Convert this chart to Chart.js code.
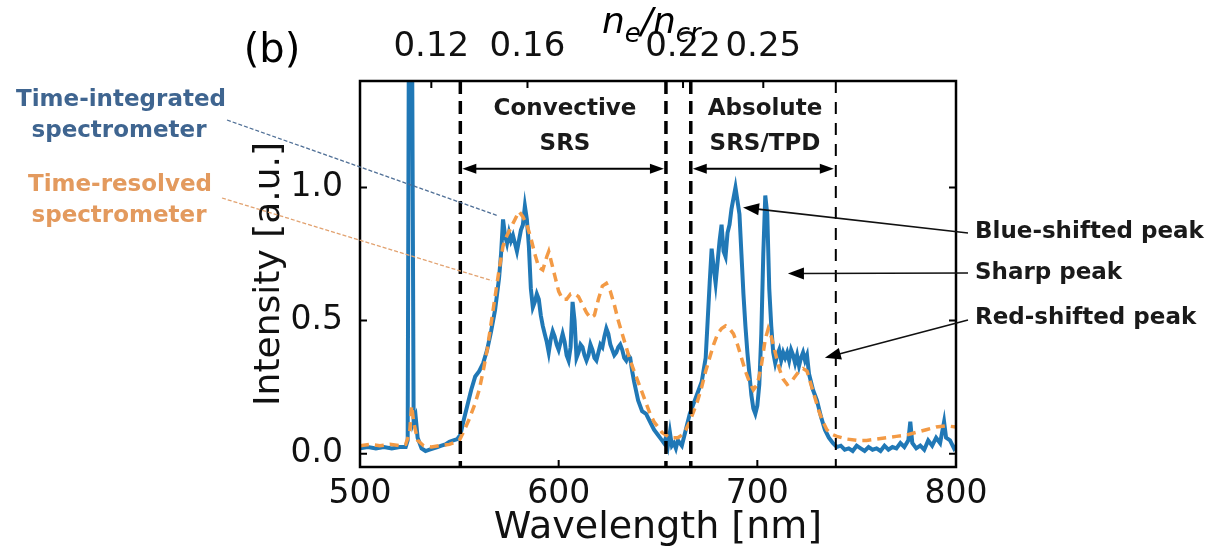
<!DOCTYPE html>
<html><head><meta charset="utf-8">
<script src="https://cdn.jsdelivr.net/npm/chart.js@4.4.0/dist/chart.umd.min.js"></script>
<style>html,body{margin:0;padding:0;background:#fff;}canvas{display:block;}</style>
</head><body>
<canvas id="c" width="1216" height="558"></canvas>
<script>
// ---- data ----
const blueWavelength = [500,504,508,512,516,520,523,524,524.6,525.4,526.2,527,528,529,531,533,535,537,539,541,543,545,547,549,550.5,552,554,556,558,560,562,564,566,568,570,571,572,573,574,575,576,577,578,579,580,581,582,583,584,585,586,587,588,589,590,591,592,593,594,595,596,597,598,599,600,601,602,603,604,605,606,607,608,609,610,611,612,613,614,615,616,617,618,619,620,621,622,623,624,625,626,627,628,629,630,631,632,633,634,635,636,637,638,640,642,644,646,648,650,652,653,654,655,656,657,658,659,660,661,662,663,664,665,666,668,670,672,674,675,676,677,678,679,680,681,682,683,684,685,686,687,688,689,690,691,692,693,694,695,696,697,698,699,700,701,702,703,704,705,706,707,708,709,710,711,712,713,714,715,716,717,718,719,720,721,722,723,724,725,726,728,730,732,734,736,738,740,742,744,746,748,750,752,754,756,758,760,762,764,766,768,770,772,774,776,777,778,780,782,784,786,788,790,792,794,795,797,799,800];
const blueIntensity = [0.02,0.025,0.02,0.025,0.02,0.025,0.025,0.05,1.6,1.6,1.6,0.12,0.14,0.06,0.02,0.01,0.015,0.02,0.025,0.03,0.035,0.045,0.05,0.055,0.07,0.12,0.18,0.24,0.29,0.31,0.34,0.39,0.46,0.54,0.66,0.75,0.88,0.82,0.79,0.83,0.80,0.82,0.79,0.76,0.80,0.84,0.86,0.93,0.88,0.78,0.62,0.55,0.57,0.60,0.58,0.52,0.48,0.45,0.42,0.38,0.43,0.46,0.44,0.41,0.39,0.42,0.45,0.42,0.37,0.35,0.40,0.57,0.50,0.36,0.38,0.41,0.40,0.37,0.35,0.37,0.41,0.39,0.36,0.35,0.38,0.41,0.40,0.44,0.47,0.45,0.41,0.39,0.37,0.38,0.40,0.41,0.39,0.36,0.35,0.37,0.36,0.31,0.27,0.20,0.16,0.15,0.12,0.09,0.07,0.05,0.04,0.06,0.03,0.08,0.03,0.04,0.02,0.05,0.04,0.03,0.06,0.09,0.12,0.15,0.19,0.23,0.27,0.36,0.50,0.64,0.77,0.70,0.64,0.72,0.80,0.86,0.76,0.74,0.83,0.86,0.92,0.96,1.00,0.95,0.90,0.75,0.60,0.48,0.38,0.30,0.22,0.17,0.15,0.18,0.26,0.45,0.75,0.97,0.90,0.62,0.48,0.38,0.34,0.37,0.39,0.35,0.38,0.36,0.38,0.35,0.39,0.37,0.34,0.37,0.33,0.36,0.38,0.35,0.37,0.30,0.24,0.20,0.14,0.09,0.06,0.04,0.025,0.03,0.015,0.02,0.01,0.03,0.02,0.01,0.025,0.015,0.02,0.01,0.03,0.015,0.025,0.02,0.04,0.025,0.05,0.12,0.04,0.02,0.03,0.015,0.05,0.03,0.06,0.04,0.12,0.06,0.05,0.02,0.03];
const orangeWavelength = [500,505,510,515,520,523,525,526,527,529,532,536,540,545,550,552,555,558,560,562,564,566,568,570,572,574,576,578,580,582,584,586,588,590,592,594,595,596,598,600,602,604,606,608,610,612,614,616,618,620,622,624,626,628,630,632,634,636,638,640,642,644,646,648,650,652,654,656,658,660,662,664,666,668,670,672,674,676,678,680,682,684,686,688,690,692,694,696,698,700,702,704,705.5,707,709,711,713,715,717,719,721,723,725,727,729,731,733,735,737,740,745,750,755,760,765,770,775,780,785,790,795,800];
const orangeIntensity = [0.03,0.035,0.03,0.035,0.03,0.035,0.08,0.18,0.12,0.05,0.03,0.025,0.03,0.035,0.05,0.08,0.13,0.19,0.24,0.31,0.39,0.49,0.59,0.69,0.78,0.82,0.85,0.88,0.91,0.89,0.86,0.81,0.75,0.70,0.69,0.74,0.76,0.73,0.67,0.61,0.58,0.58,0.60,0.60,0.59,0.56,0.53,0.51,0.52,0.58,0.63,0.64,0.61,0.56,0.50,0.45,0.40,0.35,0.31,0.27,0.23,0.19,0.15,0.12,0.10,0.08,0.07,0.06,0.06,0.06,0.07,0.09,0.12,0.16,0.20,0.25,0.31,0.36,0.41,0.45,0.47,0.48,0.47,0.45,0.41,0.36,0.31,0.27,0.24,0.26,0.33,0.43,0.47,0.44,0.38,0.32,0.28,0.26,0.27,0.29,0.31,0.32,0.31,0.26,0.21,0.16,0.12,0.09,0.075,0.065,0.055,0.05,0.05,0.055,0.06,0.065,0.07,0.08,0.09,0.10,0.105,0.10];
const xTickValues = [500,600,700,800];
const yTickValues = [0,0.5,1.0];
const topTickWavelength = [535.9,584.3,662.6,703];
const topTickLabels = ['0.12','0.16','0.22','0.25'];
const regionBounds = [550.5,654,666.5,739.5];

const toPoints = (xs, ys) => xs.map((v,i)=>({x:v,y:ys[i]}));

const FONT = '"DejaVu Sans", sans-serif';

function head(ctx, x1, y1, x2, y2, len, hw){
  const ang = Math.atan2(y2-y1, x2-x1);
  ctx.beginPath();
  ctx.moveTo(x2, y2);
  ctx.lineTo(x2 - len*Math.cos(ang) + hw*Math.sin(ang), y2 - len*Math.sin(ang) - hw*Math.cos(ang));
  ctx.lineTo(x2 - len*Math.cos(ang) - hw*Math.sin(ang), y2 - len*Math.sin(ang) + hw*Math.cos(ang));
  ctx.closePath();
  ctx.fill();
}
function arrow(ctx, x1, y1, x2, y2, len, hw, lw){
  const ang = Math.atan2(y2-y1, x2-x1);
  ctx.lineWidth = lw;
  ctx.beginPath();
  ctx.moveTo(x1,y1);
  ctx.lineTo(x2 - len*0.8*Math.cos(ang), y2 - len*0.8*Math.sin(ang));
  ctx.stroke();
  head(ctx, x1, y1, x2, y2, len, hw);
}

const deco = {
  id: 'deco',
  afterDatasetsDraw(chart){
    const {ctx, chartArea:a, scales} = chart;
    const X = v => scales.x.getPixelForValue(v), Y = v => scales.y.getPixelForValue(v);
    ctx.save();
    // region boundaries
    ctx.strokeStyle = '#000';
    regionBounds.forEach((w,i)=>{
      ctx.lineWidth = i < 3 ? 3.5 : 2;
      ctx.setLineDash(i < 3 ? [13,7] : [12,9]);
      ctx.beginPath(); ctx.moveTo(X(w), a.top); ctx.lineTo(X(w), a.bottom); ctx.stroke();
    });
    ctx.setLineDash([]);
    // double arrows
    ctx.fillStyle = '#000'; ctx.strokeStyle = '#000';
    const ya = Y(1.07);
    [[regionBounds[0], regionBounds[1]], [regionBounds[2], regionBounds[3]]].forEach(([l,r])=>{
      const xl = X(l)+2, xr = X(r)-2;
      ctx.lineWidth = 2;
      ctx.beginPath(); ctx.moveTo(xl+10, ya); ctx.lineTo(xr-10, ya); ctx.stroke();
      head(ctx, xr, ya, xl, ya, 14, 5);
      head(ctx, xl, ya, xr, ya, 14, 5);
    });
    // region labels
    ctx.font = 'bold 23px ' + FONT;
    ctx.textAlign = 'center'; ctx.textBaseline = 'alphabetic';
    ctx.fillStyle = '#1a1a1a';
    ctx.fillText('Convective', 565, 115);
    ctx.fillText('SRS', 565, 150);
    ctx.fillText('Absolute', 765, 115);
    ctx.fillText('SRS/TPD', 765, 150);
    // frame
    ctx.lineWidth = 2.5; ctx.strokeStyle = '#000';
    ctx.strokeRect(a.left, a.top, a.right - a.left, a.bottom - a.top);
    // inward ticks
    ctx.lineWidth = 2;
    const tl = 7;
    ctx.beginPath();
    xTickValues.forEach(v=>{ const px = X(v); ctx.moveTo(px, a.bottom); ctx.lineTo(px, a.bottom - tl); });
    yTickValues.forEach(v=>{ const py = Y(v); ctx.moveTo(a.left, py); ctx.lineTo(a.left + tl, py); ctx.moveTo(a.right, py); ctx.lineTo(a.right - tl, py); });
    topTickWavelength.forEach(v=>{ const px = X(v); ctx.moveTo(px, a.top); ctx.lineTo(px, a.top + tl); });
    ctx.stroke();
    ctx.restore();
  },
  afterDraw(chart){
    const {ctx, scales} = chart;
    const X = v => scales.x.getPixelForValue(v), Y = v => scales.y.getPixelForValue(v);
    ctx.save();
    // leader lines
    ctx.lineWidth = 1.3;
    ctx.setLineDash([4,2]);
    ctx.strokeStyle = '#4f6f96';
    ctx.beginPath(); ctx.moveTo(227,120); ctx.lineTo(X(569), Y(0.895)); ctx.stroke();
    ctx.strokeStyle = '#e2a270';
    ctx.beginPath(); ctx.moveTo(222,198); ctx.lineTo(X(566.4), Y(0.65)); ctx.stroke();
    ctx.setLineDash([]);
    // left labels
    ctx.font = 'bold 23px ' + FONT;
    ctx.textAlign = 'center'; ctx.textBaseline = 'alphabetic';
    ctx.fillStyle = '#3f6590';
    ctx.fillText('Time-integrated', 121, 106);
    ctx.fillText('spectrometer', 119, 137);
    ctx.fillStyle = '#e39a5e';
    ctx.fillText('Time-resolved', 120, 191);
    ctx.fillText('spectrometer', 119, 222);
    // right annotations
    ctx.fillStyle = '#000'; ctx.strokeStyle = '#111';
    arrow(ctx, 968, 233, X(692.8), Y(0.925), 16, 6, 1.6);
    arrow(ctx, 968, 273, X(715.4), Y(0.677), 16, 6, 1.6);
    arrow(ctx, 968, 320, X(734), Y(0.36), 16, 6, 1.6);
    ctx.font = 'bold 23px ' + FONT;
    ctx.textAlign = 'left'; ctx.textBaseline = 'middle';
    ctx.fillStyle = '#1a1a1a';
    ctx.fillText('Blue-shifted peak', 975, 232);
    ctx.fillText('Sharp peak', 975, 273);
    ctx.fillText('Red-shifted peak', 975, 318);
    // panel label
    ctx.font = '40px ' + FONT;
    ctx.textAlign = 'center'; ctx.textBaseline = 'alphabetic';
    ctx.fillStyle = '#000';
    ctx.fillText('(b)', 272, 62);
    // top axis title n_e/n_cr
    ctx.textAlign = 'left';
    let x0 = 602;
    const big = 'italic 36px ' + FONT, small = 'italic 26px ' + FONT;
    const parts = [['n', big, 33], ['e', small, 42], ['/n', big, 33], ['cr', small, 42]];
    parts.forEach(([t,f,b])=>{ ctx.font = f; ctx.fillText(t, x0, b); x0 += ctx.measureText(t).width; });
    ctx.restore();
  }
};

const chart = new Chart(document.getElementById('c'), {
  type: 'line',
  data: {
    datasets: [
      { label: 'Time-resolved spectrometer', data: toPoints(orangeWavelength, orangeIntensity),
        borderColor: '#f39a45', borderWidth: 3.5, borderDash: [9,6], pointRadius: 0, tension: 0, order: 0, fill: false },
      { label: 'Time-integrated spectrometer', data: toPoints(blueWavelength, blueIntensity),
        borderColor: '#2078b6', borderWidth: 4, pointRadius: 0, tension: 0, order: 1, fill: false }
    ]
  },
  options: {
    responsive: false,
    animation: false,
    events: [],
    layout: { padding: { left: 248, right: 260, top: 0, bottom: 7 } },
    plugins: { legend: { display: false }, tooltip: { enabled: false } },
    scales: {
      x: {
        type: 'linear', position: 'bottom', min: 500, max: 800,
        afterBuildTicks: s => { s.ticks = xTickValues.map(v => ({value: v})); },
        afterFit: s => { s.height = 84; },
        grid: { display: false }, border: { display: false },
        ticks: { color: '#111', font: { family: FONT, size: 33 }, padding: 0, maxRotation: 0 },
        title: { display: true, text: 'Wavelength [nm]', color: '#111', font: { family: FONT, size: 38 }, padding: 0 }
      },
      x2: {
        type: 'linear', position: 'top', min: 500, max: 800,
        afterBuildTicks: s => { s.ticks = topTickWavelength.map(v => ({value: v})); },
        afterFit: s => { s.height = 81; },
        grid: { display: false }, border: { display: false },
        ticks: { color: '#111', font: { family: FONT, size: 34 }, padding: 5, maxRotation: 0, autoSkip: false,
          callback: (v, i) => topTickLabels[i] }
      },
      y: {
        type: 'linear', position: 'left', min: -0.05, max: 1.4,
        afterBuildTicks: s => { s.ticks = yTickValues.map(v => ({value: v})); },
        afterFit: s => { s.width = 112; },
        grid: { display: false }, border: { display: false },
        ticks: { color: '#111', font: { family: FONT, size: 33 }, padding: 9, callback: v => Number(v).toFixed(1) },
        title: { display: true, text: 'Intensity [a.u.]', color: '#111', font: { family: FONT, size: 36 }, padding: 0 }
      }
    }
  },
  plugins: [deco]
});
</script>
</body></html>
